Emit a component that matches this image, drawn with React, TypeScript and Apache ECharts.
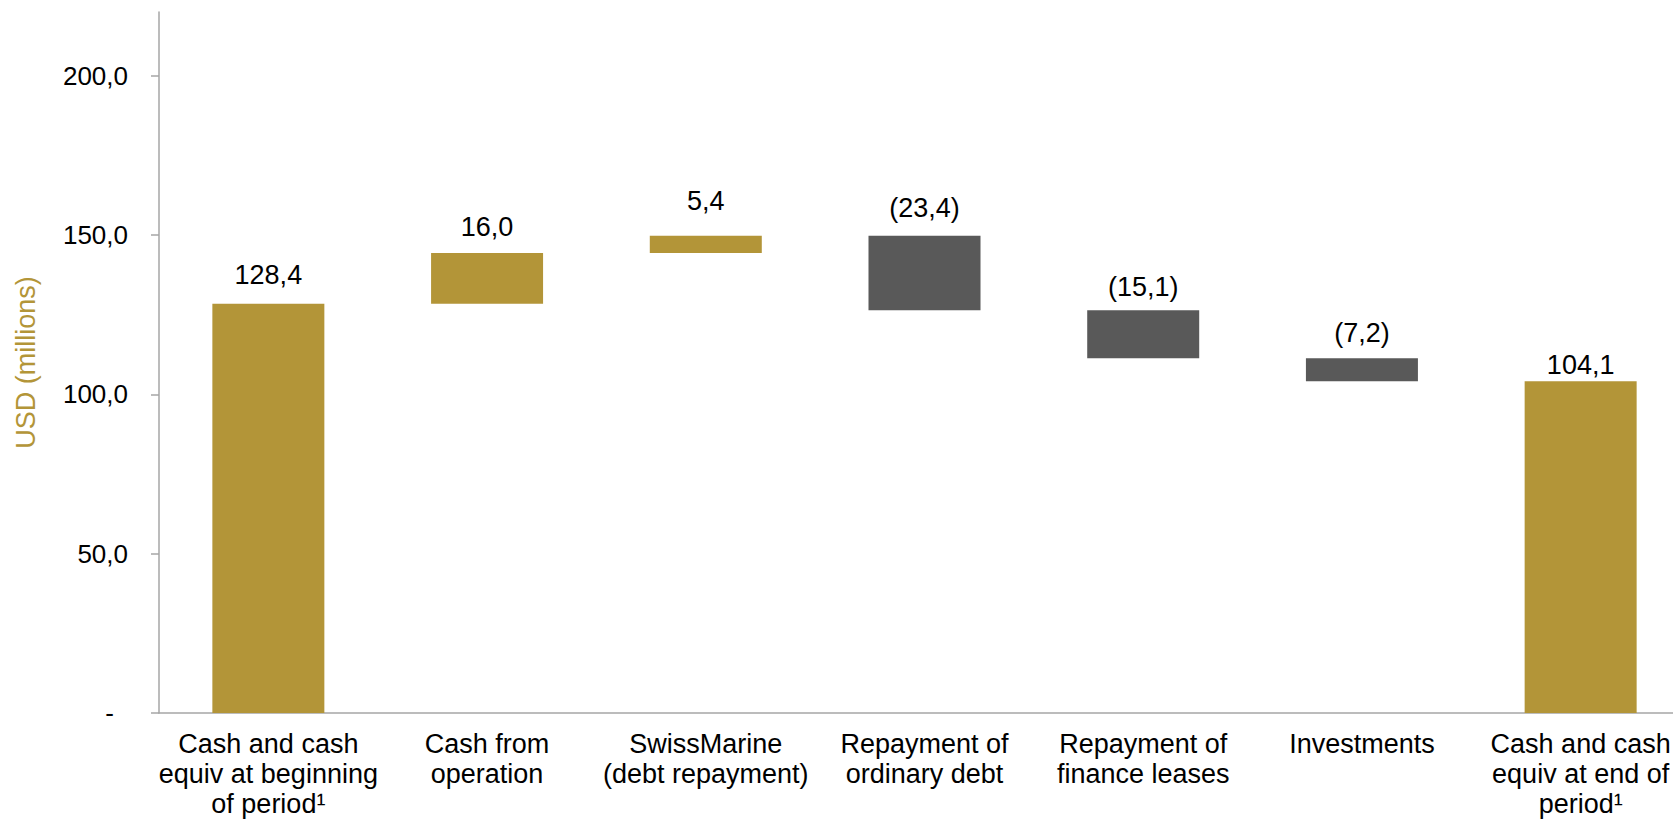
import React, { useEffect, useRef } from "react";
import * as echarts from "echarts";

// Cash bridge, USD millions
const categories = [
  "Cash and cash\nequiv at beginning\nof period¹",
  "Cash from\noperation",
  "SwissMarine\n(debt repayment)",
  "Repayment of\nordinary debt",
  "Repayment of\nfinance leases",
  "Investments",
  "Cash and cash\nequiv at end of\nperiod¹",
];
// first and last entries are balances, the rest are movements
const openingBalance = 128.4;
const movements = [16.0, 5.4, -23.4, -15.1, -7.2];
const closingBalance = 104.1;
const yTicks = [0, 50, 100, 150, 200];

const GOLD = "#B39538";
const GREY = "#595959";
const AXIS = "#A6A6A6";
const FONT = "'Liberation Sans', Arial, sans-serif";

const fmt = (v: number) => {
  const s = Math.abs(v).toFixed(1).replace(".", ",");
  return v < 0 ? `(${s})` : s;
};

export default function App() {
  const ref = useRef<HTMLDivElement>(null);

  useEffect(() => {
    if (!ref.current) return;
    const chart = echarts.init(ref.current, null, { renderer: "svg" });

    // running totals give the floating base of each movement bar
    const deltas = [openingBalance, ...movements, closingBalance];
    const bases: number[] = [];
    const heights: number[] = [];
    let running = openingBalance;
    bases.push(0);
    heights.push(openingBalance);
    movements.forEach((m) => {
      const next = running + m;
      bases.push(Math.min(running, next));
      heights.push(Math.abs(m));
      running = next;
    });
    bases.push(0);
    heights.push(closingBalance);

    // extra lift of each value label above its bar
    const labelLift = [15, 12, 21, 14, 10, 12, 3];

    const visible = heights.map((h, i) => ({
      value: h,
      itemStyle: { color: deltas[i] < 0 ? GREY : GOLD },
      label: { distance: labelLift[i] },
    }));

    chart.setOption({
      animation: false,
      textStyle: { fontFamily: FONT },
      // the plot runs slightly past the right edge of the visible page
      grid: { left: 159, top: 12, width: 1531, height: 701, containLabel: false },
      xAxis: {
        type: "category",
        data: categories,
        axisLine: { show: true, lineStyle: { color: AXIS, width: 1.5 } },
        axisTick: { show: false },
        axisLabel: {
          interval: 0,
          color: "#000",
          fontSize: 27,
          lineHeight: 30,
          margin: 16,
          fontFamily: FONT,
        },
      },
      yAxis: {
        type: "value",
        min: 0,
        max: 220,
        interval: 50,
        name: "USD (millions)",
        nameLocation: "middle",
        nameGap: 120,
        nameTextStyle: { color: GOLD, fontSize: 27, fontFamily: FONT },
        splitLine: { show: false },
        axisLine: { show: true, lineStyle: { color: AXIS, width: 1.5 } },
        axisTick: {
          show: true,
          inside: false,
          length: 8,
          customValues: yTicks,
          lineStyle: { color: AXIS, width: 1.5 },
        },
        axisLabel: {
          customValues: yTicks,
          color: "#000",
          fontSize: 26,
          margin: 31,
          fontFamily: FONT,
          formatter: (v: number) => (v === 0 ? "{z|-}" : fmt(v)),
          rich: {
            z: { fontSize: 26, color: "#000", fontFamily: FONT, padding: [0, 14, 0, 0] },
          },
        },
      },
      series: [
        {
          type: "bar",
          stack: "bridge",
          data: bases,
          barWidth: 112,
          itemStyle: { color: "transparent" },
          silent: true,
        },
        {
          type: "bar",
          stack: "bridge",
          data: visible,
          barWidth: 112,
          label: {
            show: true,
            position: "top",
            color: "#000",
            fontSize: 27,
            lineHeight: 27,
            fontFamily: FONT,
            formatter: (p: any) => fmt(deltas[p.dataIndex]),
          },
        },
      ],
    });

    return () => chart.dispose();
  }, []);

  return (
    <div
      ref={ref}
      style={{ position: "fixed", left: 0, top: 0, width: 1700, height: 819, background: "#fff" }}
    />
  );
}
